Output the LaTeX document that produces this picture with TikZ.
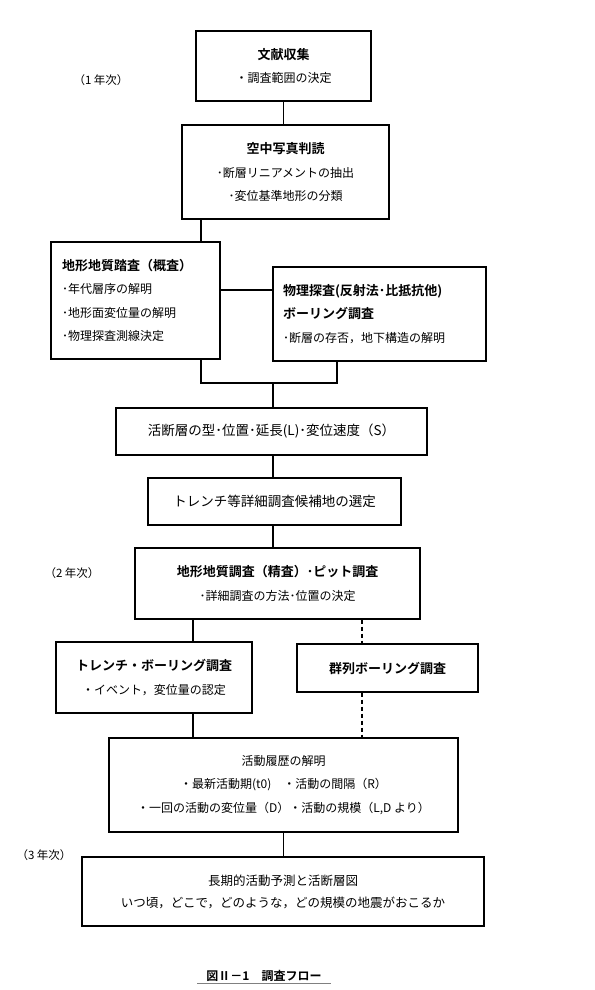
\documentclass[tikz,border=0pt]{standalone}
\usepackage{fontspec}
\usepackage{tikz}
\usetikzlibrary{positioning, calc}

\newfontfamily\jp{Noto Sans CJK JP}[BoldFont={Noto Sans CJK JP Bold}]
\newcommand{\ttl}[1]{{\fontsize{13}{23.5}\selectfont\bfseries #1}}

\begin{document}
\begin{tikzpicture}[x=1pt, y=-1pt,
        box/.style={draw, rectangle, line width=1.2pt, inner sep=0pt, align=center, font=\jp\fontsize{12}{23.5}\selectfont},
        thickbox/.style={box, line width=1.9pt},
        leftbox/.style={box, align=left},
        year/.style={font=\jp\fontsize{11.5}{14}\selectfont},
        link/.style={line width=1.2pt},
        dlink/.style={link, dash pattern=on 4pt off 3pt},
    ]
    \useasboundingbox[fill=white] (0,0) rectangle (594,990);

    % Year labels
    \node[year] (yr1) at (101, 80) {（1 年次）};
    \node[year] (yr2) at (72, 573) {（2 年次）};
    \node[year] (yr3) at (44, 855) {（3 年次）};

    % Boxes
    \node[box, minimum width=175, minimum height=70] (docs) at (283.5, 66)
        {\ttl{文献収集}\\・調査範囲の決定};
    \node[box, minimum width=207, minimum height=94] (photo) at (285.5, 172)
        {\ttl{空中写真判読}\\･断層リニアメントの抽出\\･変位基準地形の分類};
    \node[leftbox, minimum width=169, minimum height=117, inner xsep=11, text width=147] (field) at (135.5, 300.5)
        {\ttl{地形地質踏査（概査）}\\･年代層序の解明\\･地形面変位量の解明\\･物理探査測線決定};
    \node[leftbox, minimum width=213, minimum height=94, inner xsep=10, text width=193] (geoph) at (379.5, 314)
        {\ttl{物理探査(反射法･比抵抗他)}\\\ttl{ボーリング調査}\\･断層の存否，地下構造の解明};
    \node[thickbox, minimum width=311, minimum height=47, font=\jp\fontsize{13.5}{16}\selectfont] (fault) at (271.5, 431.5)
        {活断層の型･位置･延長(L)･変位速度（S）};
    \node[thickbox, minimum width=253, minimum height=47, font=\jp\fontsize{13.5}{16}\selectfont] (site) at (274.5, 501.5)
        {トレンチ等詳細調査候補地の選定};
    \node[box, minimum width=285, minimum height=71] (detail) at (277.5, 583.5)
        {\ttl{地形地質調査（精査）･ピット調査}\\･詳細調査の方法･位置の決定};
    \node[box, minimum width=196, minimum height=71] (trench) at (154, 677.5)
        {\ttl{トレンチ・ボーリング調査}\\・イベント，変位量の認定};
    \node[box, minimum width=181, minimum height=48] (array) at (387.5, 668)
        {\ttl{群列ボーリング調査}};
    \node[box, minimum width=349, minimum height=94] (hist) at (283.5, 785)
        {活動履歴の解明\\・最新活動期(t0)\quad・活動の間隔（R）\\・一回の活動の変位量（D）・活動の規模（L,D より）};
    \node[thickbox, minimum width=402, minimum height=69, font=\jp\fontsize{12.5}{22}\selectfont] (pred) at (283, 891.5)
        {長期的活動予測と活断層図\\いつ頃，どこで，どのような，どの規模の地震がおこるか};

    % Caption
    \node[font=\jp\fontsize{12}{14}\selectfont\bfseries, inner xsep=9, inner ysep=1.5] (cap) at (264, 976)
        {図Ⅱ－1\quad 調査フロー};
    \draw[gray, line width=0.8pt] (cap.south west) -- (cap.south east);

    % Connector positions
    \coordinate (xa) at (201, 0);
    \coordinate (xb) at (337, 0);
    \coordinate (xc) at (193, 0);
    \coordinate (xd) at (362, 0);
    \coordinate (ya) at (0, 290);
    \coordinate (jn) at (273, 383);

    % Connectors
    \draw[link] (docs.south) -- (docs.south |- photo.north);
    \draw[link] (photo.south -| xa) -- (field.north -| xa);
    \draw[link] (field.east |- ya) -- (geoph.west |- ya);
    \draw[link] (field.south -| xa) |- (jn) -| (geoph.south -| xb);
    \draw[link] (jn) -- (jn |- fault.north);
    \draw[link] (fault.south -| jn) -- (site.north -| jn);
    \draw[link] (site.south -| jn) -- (detail.north -| jn);
    \draw[link] (detail.south -| xc) -- (trench.north -| xc);
    \draw[dlink] (detail.south -| xd) -- (array.north -| xd);
    \draw[link] (trench.south -| xc) -- (hist.north -| xc);
    \draw[dlink] (array.south -| xd) -- (hist.north -| xd);
    \draw[link] (hist.south) -- (hist.south |- pred.north);
\end{tikzpicture}
\end{document}
